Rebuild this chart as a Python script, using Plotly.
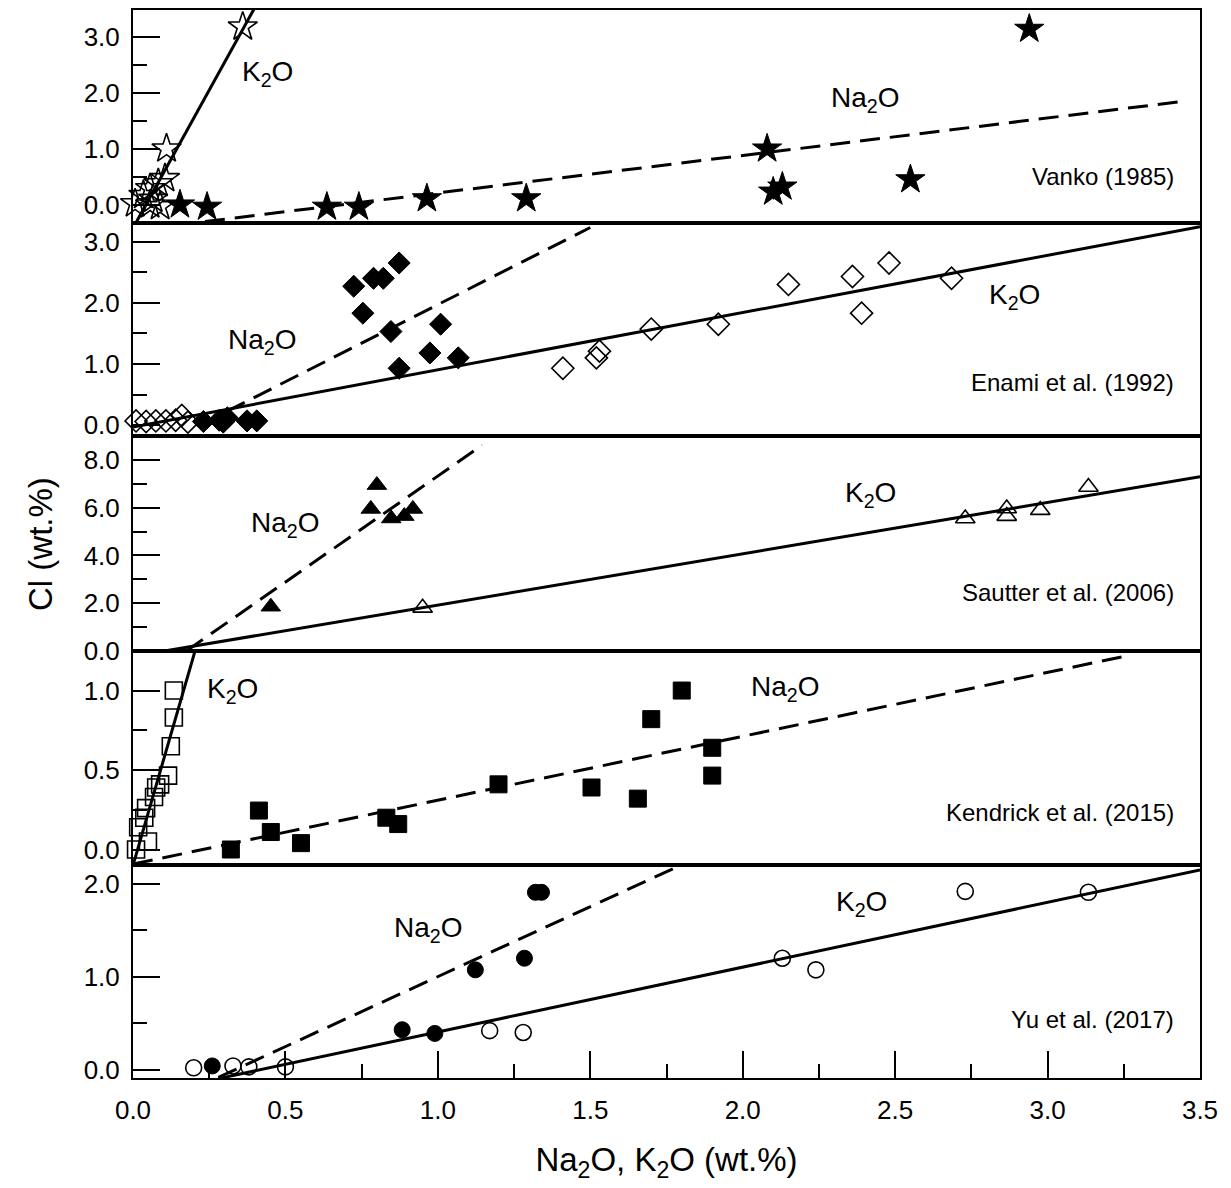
import plotly.graph_objects as go

# ---------------- data ----------------
# Panel 1: Vanko (1985)
vanko_na_x = [0.154, 0.243, 0.636, 0.741, 0.964, 1.29, 2.08, 2.10, 2.13, 2.55, 2.94]
vanko_na_y = [0.0, -0.04, -0.04, -0.04, 0.11, 0.11, 1.0, 0.23, 0.32, 0.45, 3.14]
vanko_k_x = [0.007, 0.034, 0.056, 0.066, 0.083, 0.105, 0.11, 0.056, 0.089, 0.36]
vanko_k_y = [0.02, 0.17, 0.29, 0.10, 0.38, 0.47, 1.0, 0.0, -0.03, 3.18]

# Panel 2: Enami et al. (1992)
enami_na_x = [0.724, 0.789, 0.821, 0.873, 0.754, 0.846, 1.009, 0.974, 1.067, 0.873,
              0.231, 0.283, 0.309, 0.296, 0.374, 0.406]
enami_na_y = [2.27, 2.40, 2.40, 2.65, 1.83, 1.53, 1.65, 1.18, 1.10, 0.93,
              0.06, 0.08, 0.12, 0.05, 0.07, 0.07]
enami_k_x = [0.01, 0.043, 0.075, 0.108, 0.14, 0.16, 0.18,
             1.41, 1.52, 1.53, 1.70, 1.92, 2.15, 2.36, 2.48, 2.39, 2.685]
enami_k_y = [0.07, 0.06, 0.07, 0.07, 0.08, 0.16, 0.05,
             0.93, 1.10, 1.21, 1.57, 1.65, 2.30, 2.43, 2.65, 1.83, 2.40]

# Panel 3: Sautter et al. (2006)
sautter_na_x = [0.452, 0.80, 0.78, 0.847, 0.89, 0.918]
sautter_na_y = [1.85, 6.95, 5.95, 5.55, 5.65, 5.95]
sautter_k_x = [0.95, 2.73, 2.866, 2.866, 2.976, 3.134]
sautter_k_y = [1.80, 5.55, 5.97, 5.65, 5.90, 6.87]

# Panel 4: Kendrick et al. (2015)
kendrick_na_x = [0.321, 0.413, 0.452, 0.551, 0.831, 0.870, 1.199, 1.504,
                 1.80, 1.70, 1.90, 1.90, 1.656]
kendrick_na_y = [0.0, 0.245, 0.11, 0.04, 0.20, 0.16, 0.41, 0.39,
                 1.0, 0.82, 0.64, 0.465, 0.32]
kendrick_k_x = [0.134, 0.134, 0.124, 0.115, 0.089, 0.076, 0.069, 0.043, 0.037, 0.017, 0.049, 0.01]
kendrick_k_y = [1.0, 0.83, 0.65, 0.465, 0.41, 0.39, 0.33, 0.26, 0.20, 0.14, 0.05, 0.0]

# Panel 5: Yu et al. (2017)
yu_na_x = [0.26, 0.883, 0.99, 1.123, 1.284, 1.32, 1.34]
yu_na_y = [0.04, 0.43, 0.39, 1.075, 1.20, 1.91, 1.91]
yu_k_x = [0.199, 0.328, 0.38, 0.50, 1.17, 1.28, 2.13, 2.24, 2.73, 3.134]
yu_k_y = [0.02, 0.04, 0.03, 0.03, 0.42, 0.40, 1.20, 1.075, 1.92, 1.91]

# regression lines: slope, intercept, x start, x end
na_slope = [0.67, 2.52, 8.89, 0.402, 1.507]
na_icpt = [-0.46, -0.55, -1.56, -0.092, -0.505]
na_x0 = [0.236, 0.22, 0.175, 0.0, 0.28]
na_x1 = [3.43, 1.50, 1.145, 3.26, 1.78]
k_slope = [9.87, 0.935, 2.151, 6.63, 0.698]
k_icpt = [-0.42, -0.03, -0.232, -0.10, -0.292]
k_x0 = [0.012, 0.0, 0.108, 0.0, 0.28]
k_x1 = [0.42, 3.5, 3.5, 0.22, 3.5]

sources = ["Vanko (1985)", "Enami et al. (1992)", "Sautter et al. (2006)",
           "Kendrick et al. (2015)", "Yu et al. (2017)"]
source_y = [0.5, 0.70, 2.46, 0.23, 0.54]
na_label_xy = [(2.40, 1.875), (0.423, 1.37), (0.50, 5.29), (2.14, 1.01), (0.967, 1.505)]
k_label_xy = [(0.44, 2.34), (2.89, 2.10), (2.42, 6.54), (0.325, 1.0), (2.39, 1.785)]

y_ranges = [[-0.32, 3.48], [-0.18, 3.31], [0.0, 9.0], [-0.10, 1.25], [-0.09, 2.2]]
y_ticks = [[0.0, 1.0, 2.0, 3.0], [0.0, 1.0, 2.0, 3.0], [0.0, 2.0, 4.0, 6.0, 8.0],
           [0.0, 0.5, 1.0], [0.0, 1.0, 2.0]]
y_minor = [0.5, 0.5, 1.0, 0.25, 0.5]
x_ticks = [0.0, 0.5, 1.0, 1.5, 2.0, 2.5, 3.0, 3.5]

na_pts = [(vanko_na_x, vanko_na_y), (enami_na_x, enami_na_y), (sautter_na_x, sautter_na_y),
          (kendrick_na_x, kendrick_na_y), (yu_na_x, yu_na_y)]
k_pts = [(vanko_k_x, vanko_k_y), (enami_k_x, enami_k_y), (sautter_k_x, sautter_k_y),
         (kendrick_k_x, kendrick_k_y), (yu_k_x, yu_k_y)]
symbols = ["star", "diamond", "triangle-up", "square", "circle"]
sizes = [22, 17, 17, 17, 16]

# ---------------- figure ----------------
W, H = 1231, 1188
ML, MR, MT, MB = 133, 31, 8, 110
panel_px = [8, 221, 435, 650, 865, 1078]
plot_h = panel_px[-1] - panel_px[0]

FONT = "Liberation Sans, Arial, Helvetica, sans-serif"
fig = go.Figure()
layout = dict(
    width=W, height=H, margin=dict(l=ML, r=MR, t=MT, b=MB),
    paper_bgcolor="white", plot_bgcolor="white", showlegend=False,
    font=dict(family=FONT, color="black"),
)
annotations = []

for i in range(5):
    k = i + 1
    xa = "x" if k == 1 else f"x{k}"
    ya = "y" if k == 1 else f"y{k}"
    # lines
    xs = [na_x0[i], na_x1[i]]
    fig.add_trace(go.Scatter(x=xs, y=[na_slope[i] * v + na_icpt[i] for v in xs], mode="lines",
                             line=dict(color="black", width=3, dash="20px,10px"),
                             xaxis=xa, yaxis=ya, hoverinfo="skip"))
    xs = [k_x0[i], k_x1[i]]
    fig.add_trace(go.Scatter(x=xs, y=[k_slope[i] * v + k_icpt[i] for v in xs], mode="lines",
                             line=dict(color="black", width=3),
                             xaxis=xa, yaxis=ya, hoverinfo="skip"))
    # points
    fig.add_trace(go.Scatter(x=k_pts[i][0], y=k_pts[i][1], mode="markers", cliponaxis=False,
                             marker=dict(symbol=symbols[i] + "-open", size=sizes[i], color="black",
                                         line=dict(width=1.6, color="black")),
                             xaxis=xa, yaxis=ya))
    fig.add_trace(go.Scatter(x=na_pts[i][0], y=na_pts[i][1], mode="markers", cliponaxis=False,
                             marker=dict(symbol=symbols[i], size=sizes[i], color="black",
                                         line=dict(width=1, color="black")),
                             xaxis=xa, yaxis=ya))

    top = (panel_px[-1] - panel_px[i]) / plot_h
    bot = (panel_px[-1] - panel_px[i + 1]) / plot_h
    last = (i == 4)
    xax = dict(
        domain=[0, 1], range=[0, 3.5], anchor=ya, showgrid=False, zeroline=False,
        showline=True, mirror=True, linecolor="black", linewidth=2,
        tickvals=x_ticks if last else [],
        ticktext=[f"{v:.1f}" for v in x_ticks] if last else [],
        ticks="inside" if last else "", ticklen=27, tickwidth=1.5, tickcolor="black",
        showticklabels=last, tickfont=dict(size=26, family=FONT),
        ticklabelstandoff=8,
    )
    if last:
        xax["minor"] = dict(ticks="inside", ticklen=14, dtick=0.25, tick0=0,
                            tickwidth=1.5, tickcolor="black")
        xax["title"] = dict(text="Na<sub>2</sub>O, K<sub>2</sub>O (wt.%)",
                            font=dict(size=33, family=FONT), standoff=24)
    else:
        xax["matches"] = "x5"
    yax = dict(
        domain=[bot, top], range=y_ranges[i], anchor=xa, showgrid=False, zeroline=False,
        showline=True, mirror=True, linecolor="black", linewidth=2,
        tickvals=y_ticks[i], ticktext=[f"{v:.1f}" for v in y_ticks[i]],
        ticks="inside", ticklen=27, tickwidth=1.5, tickcolor="black",
        tickfont=dict(size=26, family=FONT), ticklabelstandoff=6,
        minor=dict(ticks="inside", ticklen=14, dtick=y_minor[i], tick0=0,
                   tickwidth=1.5, tickcolor="black"),
    )
    layout["xaxis" if k == 1 else f"xaxis{k}"] = xax
    layout["yaxis" if k == 1 else f"yaxis{k}"] = yax

    annotations.append(dict(x=na_label_xy[i][0], y=na_label_xy[i][1], xref=xa, yref=ya,
                            text="Na<sub>2</sub>O", showarrow=False,
                            font=dict(size=28, family=FONT)))
    annotations.append(dict(x=k_label_xy[i][0], y=k_label_xy[i][1], xref=xa, yref=ya,
                            text="K<sub>2</sub>O", showarrow=False,
                            font=dict(size=28, family=FONT)))
    annotations.append(dict(x=3.42, y=source_y[i], xref=xa, yref=ya, xanchor="right",
                            text=sources[i], showarrow=False,
                            font=dict(size=24, family=FONT)))

annotations.append(dict(x=0, y=(panel_px[-1] - 543) / plot_h, xref="paper", yref="paper",
                        xanchor="center", yanchor="middle", xshift=40 - ML,
                        text="Cl (wt.%)", textangle=-90, showarrow=False,
                        font=dict(size=33, family=FONT)))
layout["annotations"] = annotations
fig.update_layout(**layout)
fig.write_html("out.html", config={"displayModeBar": False},
               post_script="document.body.style.margin='0';")
